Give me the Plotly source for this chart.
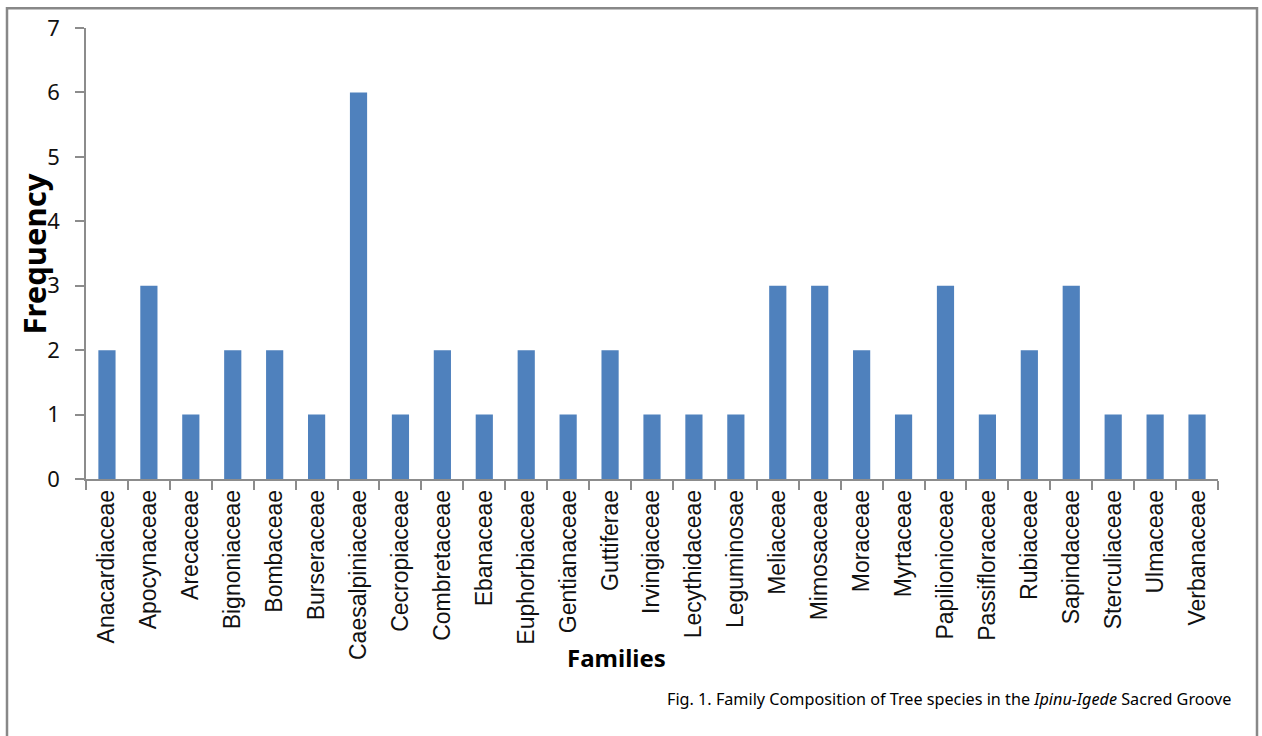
import plotly.graph_objects as go

families = ["Anacardiaceae", "Apocynaceae", "Arecaceae", "Bignoniaceae", "Bombaceae",
            "Burseraceae", "Caesalpiniaceae", "Cecropiaceae", "Combretaceae", "Ebanaceae",
            "Euphorbiaceae", "Gentianaceae", "Guttiferae", "Irvingiaceae", "Lecythidaceae",
            "Leguminosae", "Meliaceae", "Mimosaceae", "Moraceae", "Myrtaceae",
            "Papilionioceae", "Passifloraceae", "Rubiaceae", "Sapindaceae", "Sterculiaceae",
            "Ulmaceae", "Verbanaceae"]
frequency = [2, 3, 1, 2, 2, 1, 6, 1, 2, 1, 2, 1, 2, 1, 1, 1, 3, 3, 2, 1, 3, 1, 2, 3, 1, 1, 1]
y_ticks = [0, 1, 2, 3, 4, 5, 6, 7]

W, H = 1262, 736
L, R, T, B = 86, 1218, 25, 479
ml, mr, mt, mb = L, W - R, T, H - B
pw, ph = R - L, B - T

def px(x):
    return (x - L) / pw

def py(y):
    return (B - y) / ph

AX = "#8c8c8c"
fig = go.Figure(go.Bar(x=families, y=frequency, marker=dict(color="#4F81BD", line=dict(width=0)),
                       width=0.41))

fig.update_layout(
    width=W, height=H, margin=dict(l=ml, r=mr, t=mt, b=mb),
    paper_bgcolor="white", plot_bgcolor="white", showlegend=False,
    bargap=0.6,
    xaxis=dict(showline=True, linecolor=AX, linewidth=1.5, ticks="outside", tickson="boundaries",
               ticklen=9, tickcolor=AX, tickwidth=1.5, tickangle=-90,
               tickfont=dict(family="Liberation Sans", size=23, color="#111"),
               showgrid=False, range=[-0.5, len(families) - 0.5]),
    yaxis=dict(showline=True, linecolor=AX, linewidth=1.5, ticks="outside", ticklen=9,
               tickcolor=AX, tickwidth=1.5, tickvals=y_ticks, range=[0, 7], showgrid=False,
               zeroline=False, ticklabelstandoff=11,
               tickfont=dict(family="Noto Sans", size=22, color="#111")),
    shapes=[dict(type="rect", xref="paper", yref="paper", x0=px(7), x1=px(1257),
                 y0=py(745), y1=py(5), line=dict(color="#888888", width=2.5),
                 fillcolor="rgba(0,0,0,0)", layer="above")],
    annotations=[
        dict(text="<b>Frequency</b>", xref="paper", yref="paper", x=px(34), y=py(253),
             textangle=-90, showarrow=False, font=dict(family="Noto Sans", size=31, color="black"),
             xanchor="center", yanchor="middle"),
        dict(text="<b>Families</b>", xref="paper", yref="paper", x=px(616), y=py(659),
             showarrow=False, font=dict(family="Noto Sans", size=24, color="black"),
             xanchor="center", yanchor="middle"),
        dict(text="Fig. 1. Family Composition of Tree species in the <i>Ipinu-Igede</i> Sacred Groove",
             xref="paper", yref="paper", x=px(1233), y=py(700), showarrow=False,
             font=dict(family="Noto Sans", size=16.2, color="black"),
             xanchor="right", yanchor="middle"),
    ],
)

fig.write_html("out.html")
